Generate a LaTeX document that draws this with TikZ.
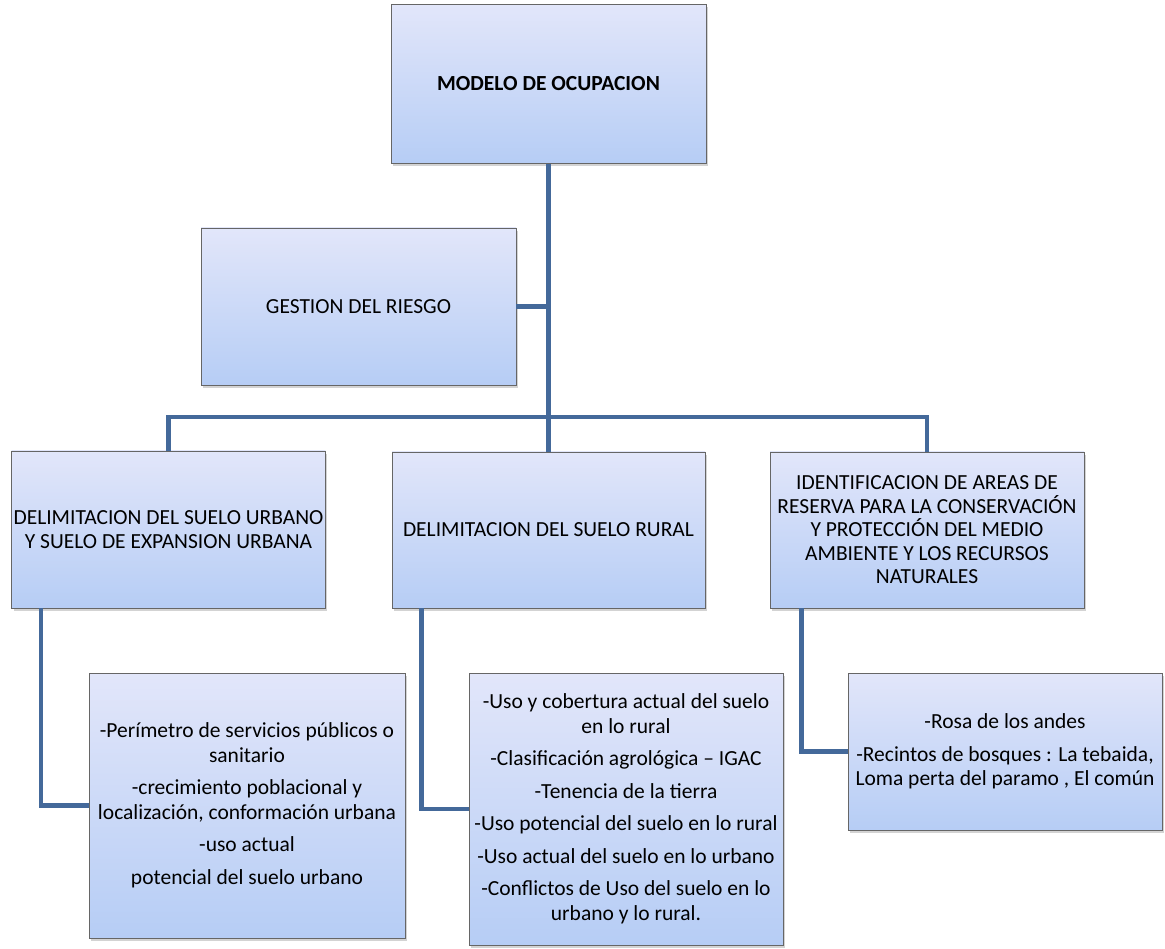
\documentclass[tikz,border=0pt]{standalone}
\usepackage{fontspec}
\setmainfont{Carlito}
\usetikzlibrary{shadows}
\definecolor{boxtop}{RGB}{226,230,250}
\definecolor{boxbot}{RGB}{182,205,245}
\definecolor{linkblue}{RGB}{68,105,154}
\begin{document}
\begin{tikzpicture}[x=1pt,y=-1pt,
		box/.style={draw=black!60, line width=0.8pt, top color=boxtop, bottom color=boxbot, align=center, inner sep=2pt, font=\fontsize{21.5}{24.5}\selectfont, drop shadow={shadow xshift=2pt, shadow yshift=-3pt, opacity=0.35}},
		link/.style={draw=linkblue, line width=4.5pt}]
		\useasboundingbox (0,0) rectangle (1165,949);
		\node[box, minimum width=315pt, minimum height=159pt, font=\fontsize{21.5}{24.5}\selectfont\bfseries] (modelo) at (548.5,84) {MODELO DE OCUPACION};
		\node[box, minimum width=315pt, minimum height=157pt] (gestion) at (358.5,306.5) {GESTION DEL RIESGO};
		\node[box, minimum width=313pt, minimum height=157pt] (urbano) at (168.5,529.5) {DELIMITACION DEL SUELO URBANO\\ Y SUELO DE EXPANSION URBANA};
		\node[box, minimum width=313pt, minimum height=156pt] (rural) at (548.5,530) {DELIMITACION DEL SUELO RURAL};
		\node[box, minimum width=314pt, minimum height=156pt, font=\fontsize{21.5}{23.5}\selectfont] (reserva) at (927,530) {IDENTIFICACION DE AREAS DE\\ RESERVA PARA LA CONSERVACIÓN\\ Y PROTECCIÓN DEL MEDIO\\ AMBIENTE Y LOS RECURSOS\\ NATURALES};
		\node[box, minimum width=316pt, minimum height=265pt] (urblista) at (247,805.5) {-Perímetro de servicios públicos o\\ sanitario\\[8pt] -crecimiento poblacional y\\ localización, conformación urbana\\[8pt] -uso actual\\[8pt] potencial del suelo urbano};
		\node[box, minimum width=314pt, minimum height=272pt] (rurlista) at (626,809) {-Uso y cobertura actual del suelo\\ en lo rural\\[8pt] -Clasificación agrológica – IGAC\\[8pt] -Tenencia de la tierra\\[8pt] -Uso potencial del suelo en lo rural\\[8pt] -Uso actual del suelo en lo urbano\\[8pt] -Conflictos de Uso del suelo en lo\\ urbano y lo rural.};
		\node[box, minimum width=314pt, minimum height=157pt] (reslista) at (1005,751.5) {-Rosa de los andes\\[8pt] -Recintos de bosques : La tebaida,\\ Loma perta del paramo , El común};
		\coordinate (bus) at (548.5,417);
		\draw[link] (modelo.south) -- (rural.north);
		\draw[link] (gestion.east) -- (gestion.east -| modelo.south);
		\draw[link] (urbano.north) |- (bus) -| (reserva.north);
		\draw[link] ([xshift=30pt]urbano.south west) |- (urblista.west);
		\draw[link] ([xshift=30pt]rural.south west) |- (rurlista.west);
		\draw[link] ([xshift=32pt]reserva.south west) |- (reslista.west);
	\end{tikzpicture}
\end{document}
